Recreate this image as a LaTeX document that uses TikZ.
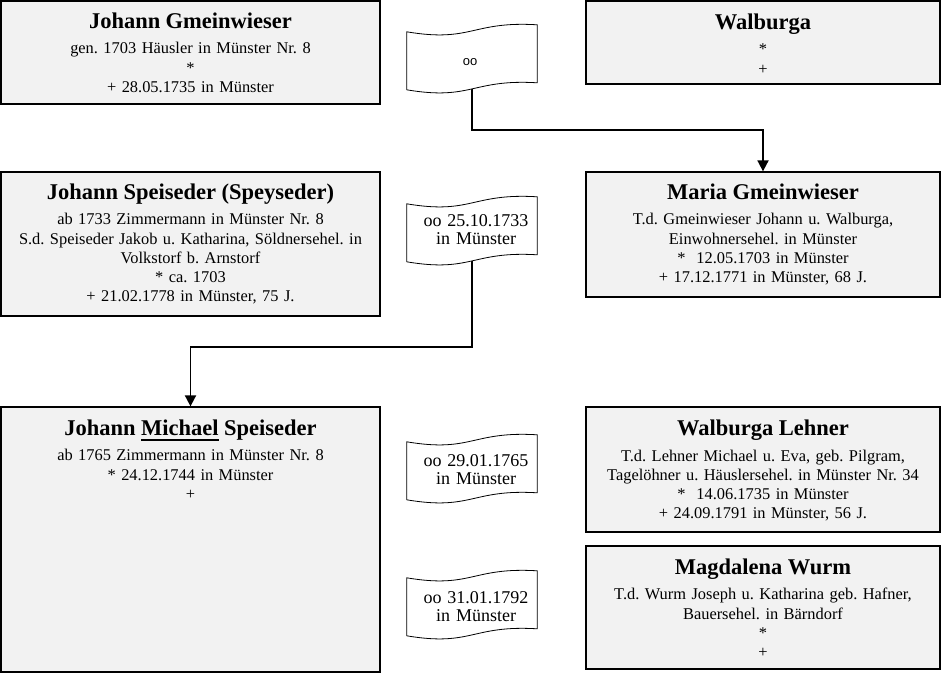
\documentclass[tikz,border=0pt]{standalone}
\usepackage{fontspec}
\setmainfont{Liberation Serif}
\newfontfamily\tapesans{Liberation Sans}
\usetikzlibrary{arrows.meta,calc}
\frenchspacing
\pgfdeclarelayer{connlayer}
\pgfdeclarelayer{tapelayer}
\pgfsetlayers{connlayer,tapelayer,main}
\newcommand\titlef{\fontsize{22.5}{26}\selectfont\bfseries}
\newcommand\bodyf{\fontsize{16.4}{19.2}\selectfont}
\newcommand\tapef{\fontsize{18}{18.5}\selectfont}
\newcommand\myul[1]{\setbox0\hbox{#1}\rlap{\rule[-5.6pt]{\wd0}{1.6pt}}\box0\relax}
\definecolor{boxgray}{HTML}{F2F2F2}
\newcommand\tapeshape[1]{%
  \draw[tapeline] ($(#1.north west)+(0,7)$) .. controls ($(#1.north west)+(65,18)$) and ($(#1.north west)+(65,-4)$) .. (#1.north east)
    -- ($(#1.north east)+(0,58)$) .. controls ($(#1.north west)+(65,54)$) and ($(#1.north west)+(65,76)$) .. ($(#1.north west)+(0,65)$) -- cycle;}
\begin{document}
\begin{tikzpicture}[x=1pt,y=-1pt,
  pbox/.style={draw=black, line width=1.3pt, fill=boxgray, inner sep=0pt, rectangle},
  ptxt/.style={anchor=base, align=center, inner sep=0pt, font=\bodyf\frenchspacing},
  tapenode/.style={inner sep=0pt, minimum width=130pt, minimum height=65pt, rectangle},
  tapetxt/.style={anchor=base, align=center, inner sep=0pt, text width=125pt, font=\tapef\frenchspacing},
  tapeline/.style={draw=black, line width=0.8pt, fill=white},
  conn/.style={draw=black, line width=1.8pt, -{Triangle[length=11pt,width=11pt]}},
]
\useasboundingbox (0,0) rectangle (942,673);

% person boxes
\node[pbox, minimum width=379pt, minimum height=103pt] (b1) at (190.5,52.5) {};
\node[pbox, minimum width=354pt, minimum height=83pt] (b2) at (763,42.5) {};
\node[pbox, minimum width=379pt, minimum height=144pt] (b3) at (190.5,244) {};
\node[pbox, minimum width=354pt, minimum height=125pt] (b4) at (763,234.5) {};
\node[pbox, minimum width=379pt, minimum height=265pt] (b5) at (190.5,539.5) {};
\node[pbox, minimum width=354pt, minimum height=125pt] (b6) at (763,469.5) {};
\node[pbox, minimum width=354pt, minimum height=123pt] (b7) at (763,607.5) {};

% texts
\node[ptxt, text width=375pt] (t1) at ([yshift=-28pt]b1.north)
  {{\titlef Johann Gmeinwieser}\\[6.3pt] gen. 1703 Häusler in Münster Nr. 8\\ {*}\\ + 28.05.1735 in Münster};
\node[ptxt, text width=350pt] (t2) at ([yshift=-29pt]b2.north)
  {{\titlef Walburga}\\[6.3pt] {*}\\ +};
\node[ptxt, text width=375pt] (t3) at ([yshift=-28pt]b3.north)
  {{\titlef Johann Speiseder (Speyseder)}\\[6.3pt] ab 1733 Zimmermann in Münster Nr. 8\\ S.d. Speiseder Jakob u. Katharina, Söldnersehel. in\\ Volkstorf b. Arnstorf\\ {*} ca. 1703\\ + 21.02.1778 in Münster, 75 J.};
\node[ptxt, text width=350pt] (t4) at ([yshift=-28pt]b4.north)
  {{\titlef Maria Gmeinwieser}\\[6.3pt] T.d. Gmeinwieser Johann u. Walburga,\\ Einwohnersehel. in Münster\\ {*}~ 12.05.1703 in Münster\\ + 17.12.1771 in Münster, 68 J.};
\node[ptxt, text width=375pt] (t5) at ([yshift=-29pt]b5.north)
  {{\titlef Johann \myul{Michael} Speiseder}\\[6.3pt] ab 1765 Zimmermann in Münster Nr. 8\\ {*} 24.12.1744 in Münster\\ +};
\node[ptxt, text width=350pt] (t6) at ([yshift=-29.5pt]b6.north)
  {{\titlef Walburga Lehner}\\[6.3pt] T.d. Lehner Michael u. Eva, geb. Pilgram,\\ Tagelöhner u. Häuslersehel. in Münster Nr. 34\\ {*}~ 14.06.1735 in Münster\\ + 24.09.1791 in Münster, 56 J.};
\node[ptxt, text width=350pt] (t7) at ([yshift=-29pt]b7.north)
  {{\titlef Magdalena Wurm}\\[6.3pt] T.d. Wurm Joseph u. Katharina geb. Hafner,\\ Bauersehel. in Bärndorf\\ {*}\\ +};

% marriage tapes (anchors)
\node[tapenode] (d1) at (472,57.5) {};
\node[tapenode] (d2) at (472,229.5) {};
\node[tapenode] (d3) at (472,467.5) {};
\node[tapenode] (d4) at (472,603.5) {};

\begin{pgfonlayer}{tapelayer}
\tapeshape{d1}
\tapeshape{d2}
\tapeshape{d3}
\tapeshape{d4}
\end{pgfonlayer}

\node[anchor=base, inner sep=0pt, font=\tapesans\fontsize{13}{15}\selectfont] (m1) at (470,65) {oo};
\node[tapetxt] (m2) at (476,226) {oo 25.10.1733\\in Münster};
\node[tapetxt] (m3) at (476,466) {oo 29.01.1765\\in Münster};
\node[tapetxt] (m4) at (476,603) {oo 31.01.1792\\in Münster};

% connectors
\begin{pgfonlayer}{connlayer}
\coordinate (k1) at (472,130);
\coordinate (k2) at (472,347);
\draw[conn] (d1.center) -- (k1) -| (b4.north);
\draw[conn] (d2.center) -- (k2) -| (b5.north);
\end{pgfonlayer}
\end{tikzpicture}
\end{document}
